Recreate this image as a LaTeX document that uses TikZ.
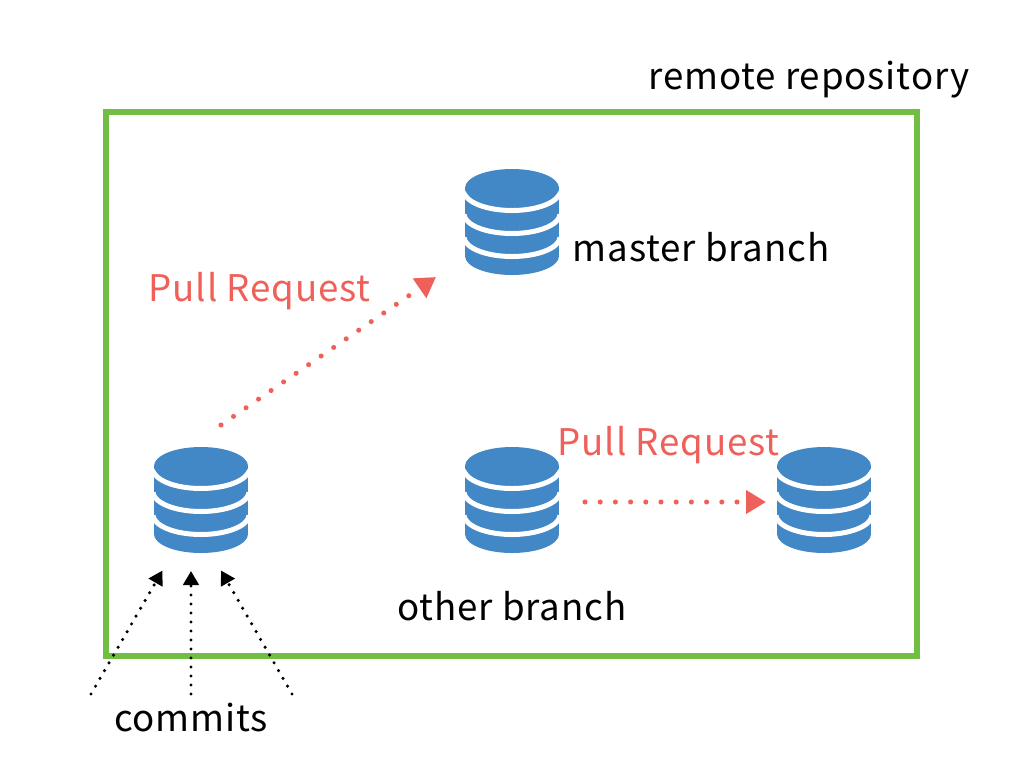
\documentclass[tikz,border=0pt]{standalone}
\usepackage{fontspec}
\setmainfont{Noto Sans CJK JP}[LetterSpace=2.4]
\usetikzlibrary{arrows.meta}
\definecolor{frameg}{HTML}{70BE44}
\definecolor{repob}{HTML}{4287C6}
\definecolor{prred}{HTML}{F0605A}
\tikzset{
  x=0.75pt,y=-0.75pt,
  label text/.style={inner sep=0pt,font=\fontsize{27.5}{32}\selectfont,text=black,anchor=base},
  pr text/.style={label text,text=prred},
  commit line/.style={black,line width=2.6pt,line cap=round,dash pattern=on 0pt off 6.75pt,
     -{Triangle[length=10.5pt,width=11.5pt,black,sep=0pt]}},
  pr line/.style={prred,line width=3.8pt,line cap=round,dash pattern=on 0pt off 11.4pt,
     -{Triangle[length=15pt,width=17pt,prred,sep=0pt]}},
  repo/.pic={
    \fill[repob] (-47,0) -- (-47,68) .. controls (-47,78.5) and (-26,87) .. (0,87)
       .. controls (26,87) and (47,78.5) .. (47,68) -- (47,0) -- cycle;
    \foreach \d in {3.5,26.5,49.5}{
      \draw[white,line width=3.75pt] (-48,\d) .. controls (-47,\d+10.5) and (-26,\d+19) .. (0,\d+19)
         .. controls (26,\d+19) and (47,\d+10.5) .. (48,\d);
    }
    \fill[white] (-50,-5) rectangle (-47,90);
    \fill[white] (47,-5) rectangle (50,90);
    \fill[repob] (-47,0) .. controls (-47,-10.5) and (-26,-19) .. (0,-19)
       .. controls (26,-19) and (47,-10.5) .. (47,0)
       .. controls (47,10.5) and (26,19) .. (0,19)
       .. controls (-26,19) and (-47,10.5) .. (-47,0) -- cycle;
  }
}
\begin{document}
\begin{tikzpicture}
\useasboundingbox (0,0) rectangle (1024,768);
\fill[white] (0,0) rectangle (1024,768);
\draw[frameg,line width=4pt] (106,112) rectangle (917,656);
\pic (master) at (512,188) {repo};
\pic (feature) at (201,466) {repo};
\pic (other) at (512,466) {repo};
\pic (target) at (824,466) {repo};
\node[label text] (remote) at (809,89) {remote repository};
\node[label text] (masterlabel) at (701,261.5) {master branch};
\node[label text] (otherlabel) at (512,620.5) {other branch};
\node[label text] (commits) at (191,731.5) {commits};
\node[pr text] (pr1) at (259.5,301.5) {Pull Request};
\node[pr text] (pr2) at (668.5,455.5) {Pull Request};
\coordinate (a1) at (221,425);
\coordinate (a2) at (436,277);
\coordinate (b1) at (585,502);
\coordinate (b2) at (766,502);
\coordinate (c1) at (91,694);
\coordinate (c2) at (162.5,570.5);
\coordinate (d1) at (191,694);
\coordinate (d2) at (191,571);
\coordinate (e1) at (292,694);
\coordinate (e2) at (221,570.5);
\draw[pr line] (a1) -- (a2);
\draw[pr line] (b1) -- (b2);
\draw[commit line] (c1) -- (c2);
\draw[commit line] (d1) -- (d2);
\draw[commit line] (e1) -- (e2);
\end{tikzpicture}
\end{document}
